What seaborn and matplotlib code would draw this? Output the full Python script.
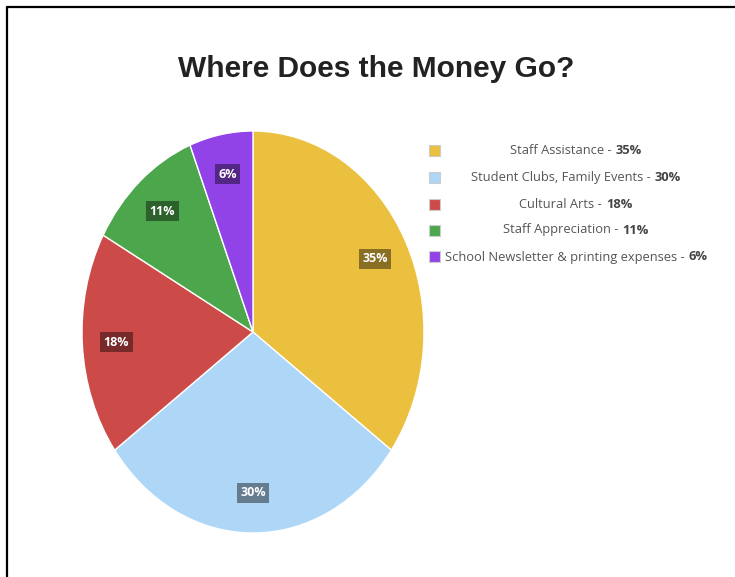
import matplotlib
matplotlib.use("Agg")
import matplotlib.pyplot as plt
from matplotlib.lines import Line2D
from matplotlib.patches import Rectangle
from matplotlib.offsetbox import TextArea, HPacker, AnnotationBbox
import seaborn as sns

# ─────────────────────────────────────────────
# DATA
# ─────────────────────────────────────────────
categories = [
    "Staff Assistance",
    "Student Clubs, Family Events",
    "Cultural Arts",
    "Staff Appreciation",
    "School Newsletter & printing expenses",
]
shares = [35, 30, 18, 11, 6]
slice_colors = ["#ebc03f", "#aed6f7", "#cc4a48", "#4ca64c", "#9143e8"]
title = "Where Does the Money Go?"

sns.set_theme(style="white")
plt.rcParams["font.family"] = ["Open Sans", "DejaVu Sans"]

W, H = 735, 577
fig = plt.figure(figsize=(W / 100, H / 100), dpi=100)
fig.patch.set_facecolor("white")

# frame (only top and left edges visible in the reference)
fig.add_artist(Line2D([7 / W, 7 / W], [0, 1 - 7 / H], color="black", lw=1.6))
fig.add_artist(Line2D([7 / W, 1], [1 - 7 / H, 1 - 7 / H], color="black", lw=1.6))

fig.text(376.5 / W, 1 - 69 / H, title, ha="center", va="center",
         fontsize=21.5, fontweight="bold", family="Liberation Sans", color="#222222")

# pie is drawn slightly elliptical as in the reference
cx, cy, rx, ry = 253, 332, 171, 201
ax = fig.add_axes([(cx - rx) / W, (H - cy - ry) / H, 2 * rx / W, 2 * ry / H])
palette = sns.color_palette(slice_colors)
wedges, _, autotexts = ax.pie(
    shares, colors=palette, startangle=90, counterclock=False,
    autopct="%d%%", pctdistance=0.8,
    wedgeprops=dict(edgecolor="white", linewidth=1),
    textprops=dict(color="white", fontsize=9, fontweight="bold"),
)
for t in autotexts:
    t.set_bbox(dict(facecolor="black", alpha=0.42, edgecolor="none", pad=2.5))
ax.set_aspect("auto")
ax.set_xlim(-1, 1)
ax.set_ylim(-1, 1)
ax.axis("off")

# legend drawn by hand: normal label + bold percentage, centred lines
row_y = [151, 177, 204, 230, 257]
text_cx = 576
for name, val, col, y in zip(categories, shares, slice_colors, row_y):
    sq = 11
    fig.add_artist(Rectangle((429 / W, 1 - (y + sq / 2) / H), sq / W, sq / H,
                             facecolor=col, edgecolor="#cccccc", lw=0.8,
                             transform=fig.transFigure))
    normal = TextArea(f"{name} -", textprops=dict(fontsize=9.3, color="#555555"))
    bold = TextArea(f"{val}%", textprops=dict(fontsize=9.3, fontweight="bold",
                                               color="#444444"))
    row = HPacker(children=[normal, bold], align="baseline", pad=0, sep=3)
    ab = AnnotationBbox(row, (text_cx / W, 1 - y / H), xycoords="figure fraction",
                        frameon=False, box_alignment=(0.5, 0.5), pad=0)
    fig.add_artist(ab)

fig.savefig("out.png", dpi=100)
